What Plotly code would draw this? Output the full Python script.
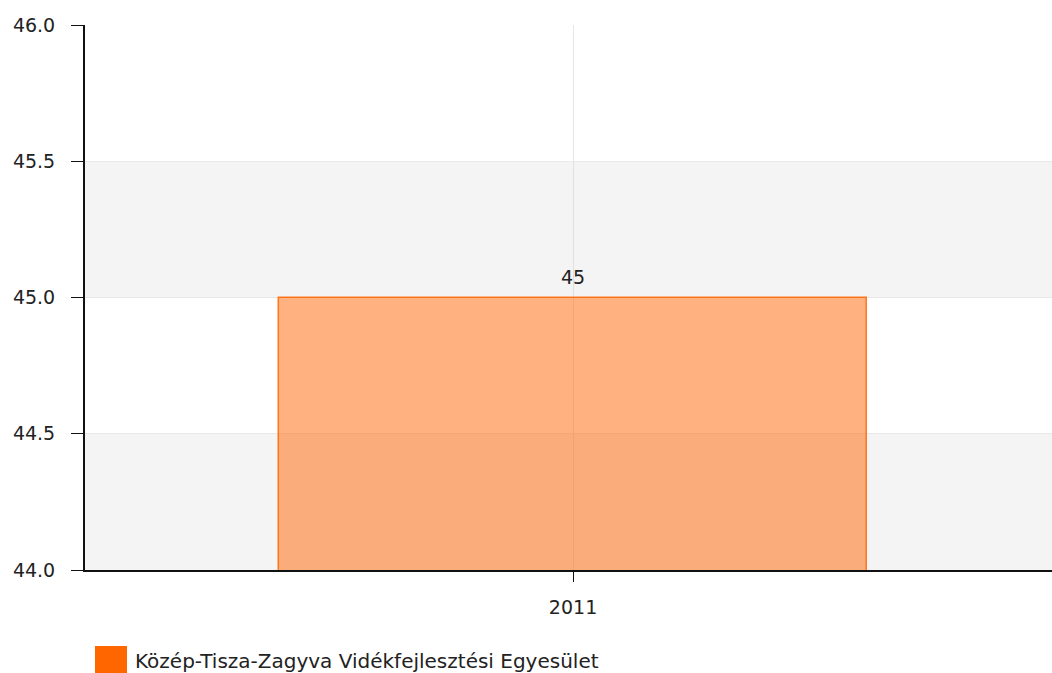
import plotly.graph_objects as go

categories = ["2011"]
values = [45]
series_name = "Közép-Tisza-Zagyva Vidékfejlesztési Egyesület"
y_ticks = [44.0, 44.5, 45.0, 45.5, 46.0]

FONT = "DejaVu Sans"
W, H = 1052, 673
L, T, B, R = 85, 25, 673 - 570, 0
PW, PH = W - L - R, H - T - B


def px_x(x):
    return (x - L) / PW


def px_y(y):
    return (570 - y) / PH


fig = go.Figure()
fig.add_trace(go.Bar(
    x=categories, y=values, name=series_name,
    width=0.603,
    marker=dict(color="rgba(255,102,0,0.5)", line=dict(color="rgba(255,102,0,0.85)", width=1.5)),
    showlegend=False, hoverinfo="skip",
))

annotations = [dict(x=i, y=v, xref="x", yref="y", text=str(v), showarrow=False,
                    yanchor="bottom", yshift=8,
                    font=dict(family=FONT, size=19, color="#222"))
               for i, v in enumerate(values)]
annotations.append(dict(xref="paper", yref="paper", x=px_x(133), y=px_y(661),
                        xanchor="left", yanchor="middle", showarrow=False,
                        text=series_name, font=dict(family=FONT, size=20, color="#222")))

# alternating bands
shapes = []
for i in range(len(y_ticks) - 1):
    if i % 2 == 0:
        shapes.append(dict(type="rect", xref="paper", yref="y", x0=0, x1=1,
                           y0=y_ticks[i], y1=y_ticks[i + 1],
                           fillcolor="#F4F4F4", line=dict(width=0), layer="below"))
# legend swatch
shapes.append(dict(type="rect", xref="paper", yref="paper",
                   x0=px_x(95), x1=px_x(127), y0=px_y(675), y1=px_y(646),
                   fillcolor="#FF6600", line=dict(width=0)))

fig.update_layout(
    width=W, height=H,
    margin=dict(l=L, r=R, t=T, b=B),
    paper_bgcolor="white", plot_bgcolor="white",
    font=dict(family=FONT, size=19, color="#222"),
    shapes=shapes,
    annotations=annotations,
    bargap=0,
    hovermode=False,
    xaxis=dict(type="category", range=[-0.5, 0.4907],
               showgrid=True, gridcolor="rgba(200,200,200,0.45)", gridwidth=1,
               showline=True, linecolor="#111", linewidth=2,
               ticks="outside", ticklen=10, tickcolor="#111", tickwidth=1,
               tickfont=dict(family=FONT, size=19, color="#222"),
               ticklabelstandoff=9, zeroline=False),
    yaxis=dict(range=[44, 46], tickvals=y_ticks, tickformat=".1f",
               showgrid=True, gridcolor="#E8E8E8", gridwidth=1,
               showline=True, linecolor="#111", linewidth=2,
               ticks="outside", ticklen=12, tickcolor="#111", tickwidth=1,
               tickfont=dict(family=FONT, size=19, color="#222"),
               ticklabelstandoff=12, zeroline=False),
)

fig.write_html("out.html", config={"displayModeBar": False},
               post_script="document.body.style.margin='0';document.body.style.overflow='hidden';")
